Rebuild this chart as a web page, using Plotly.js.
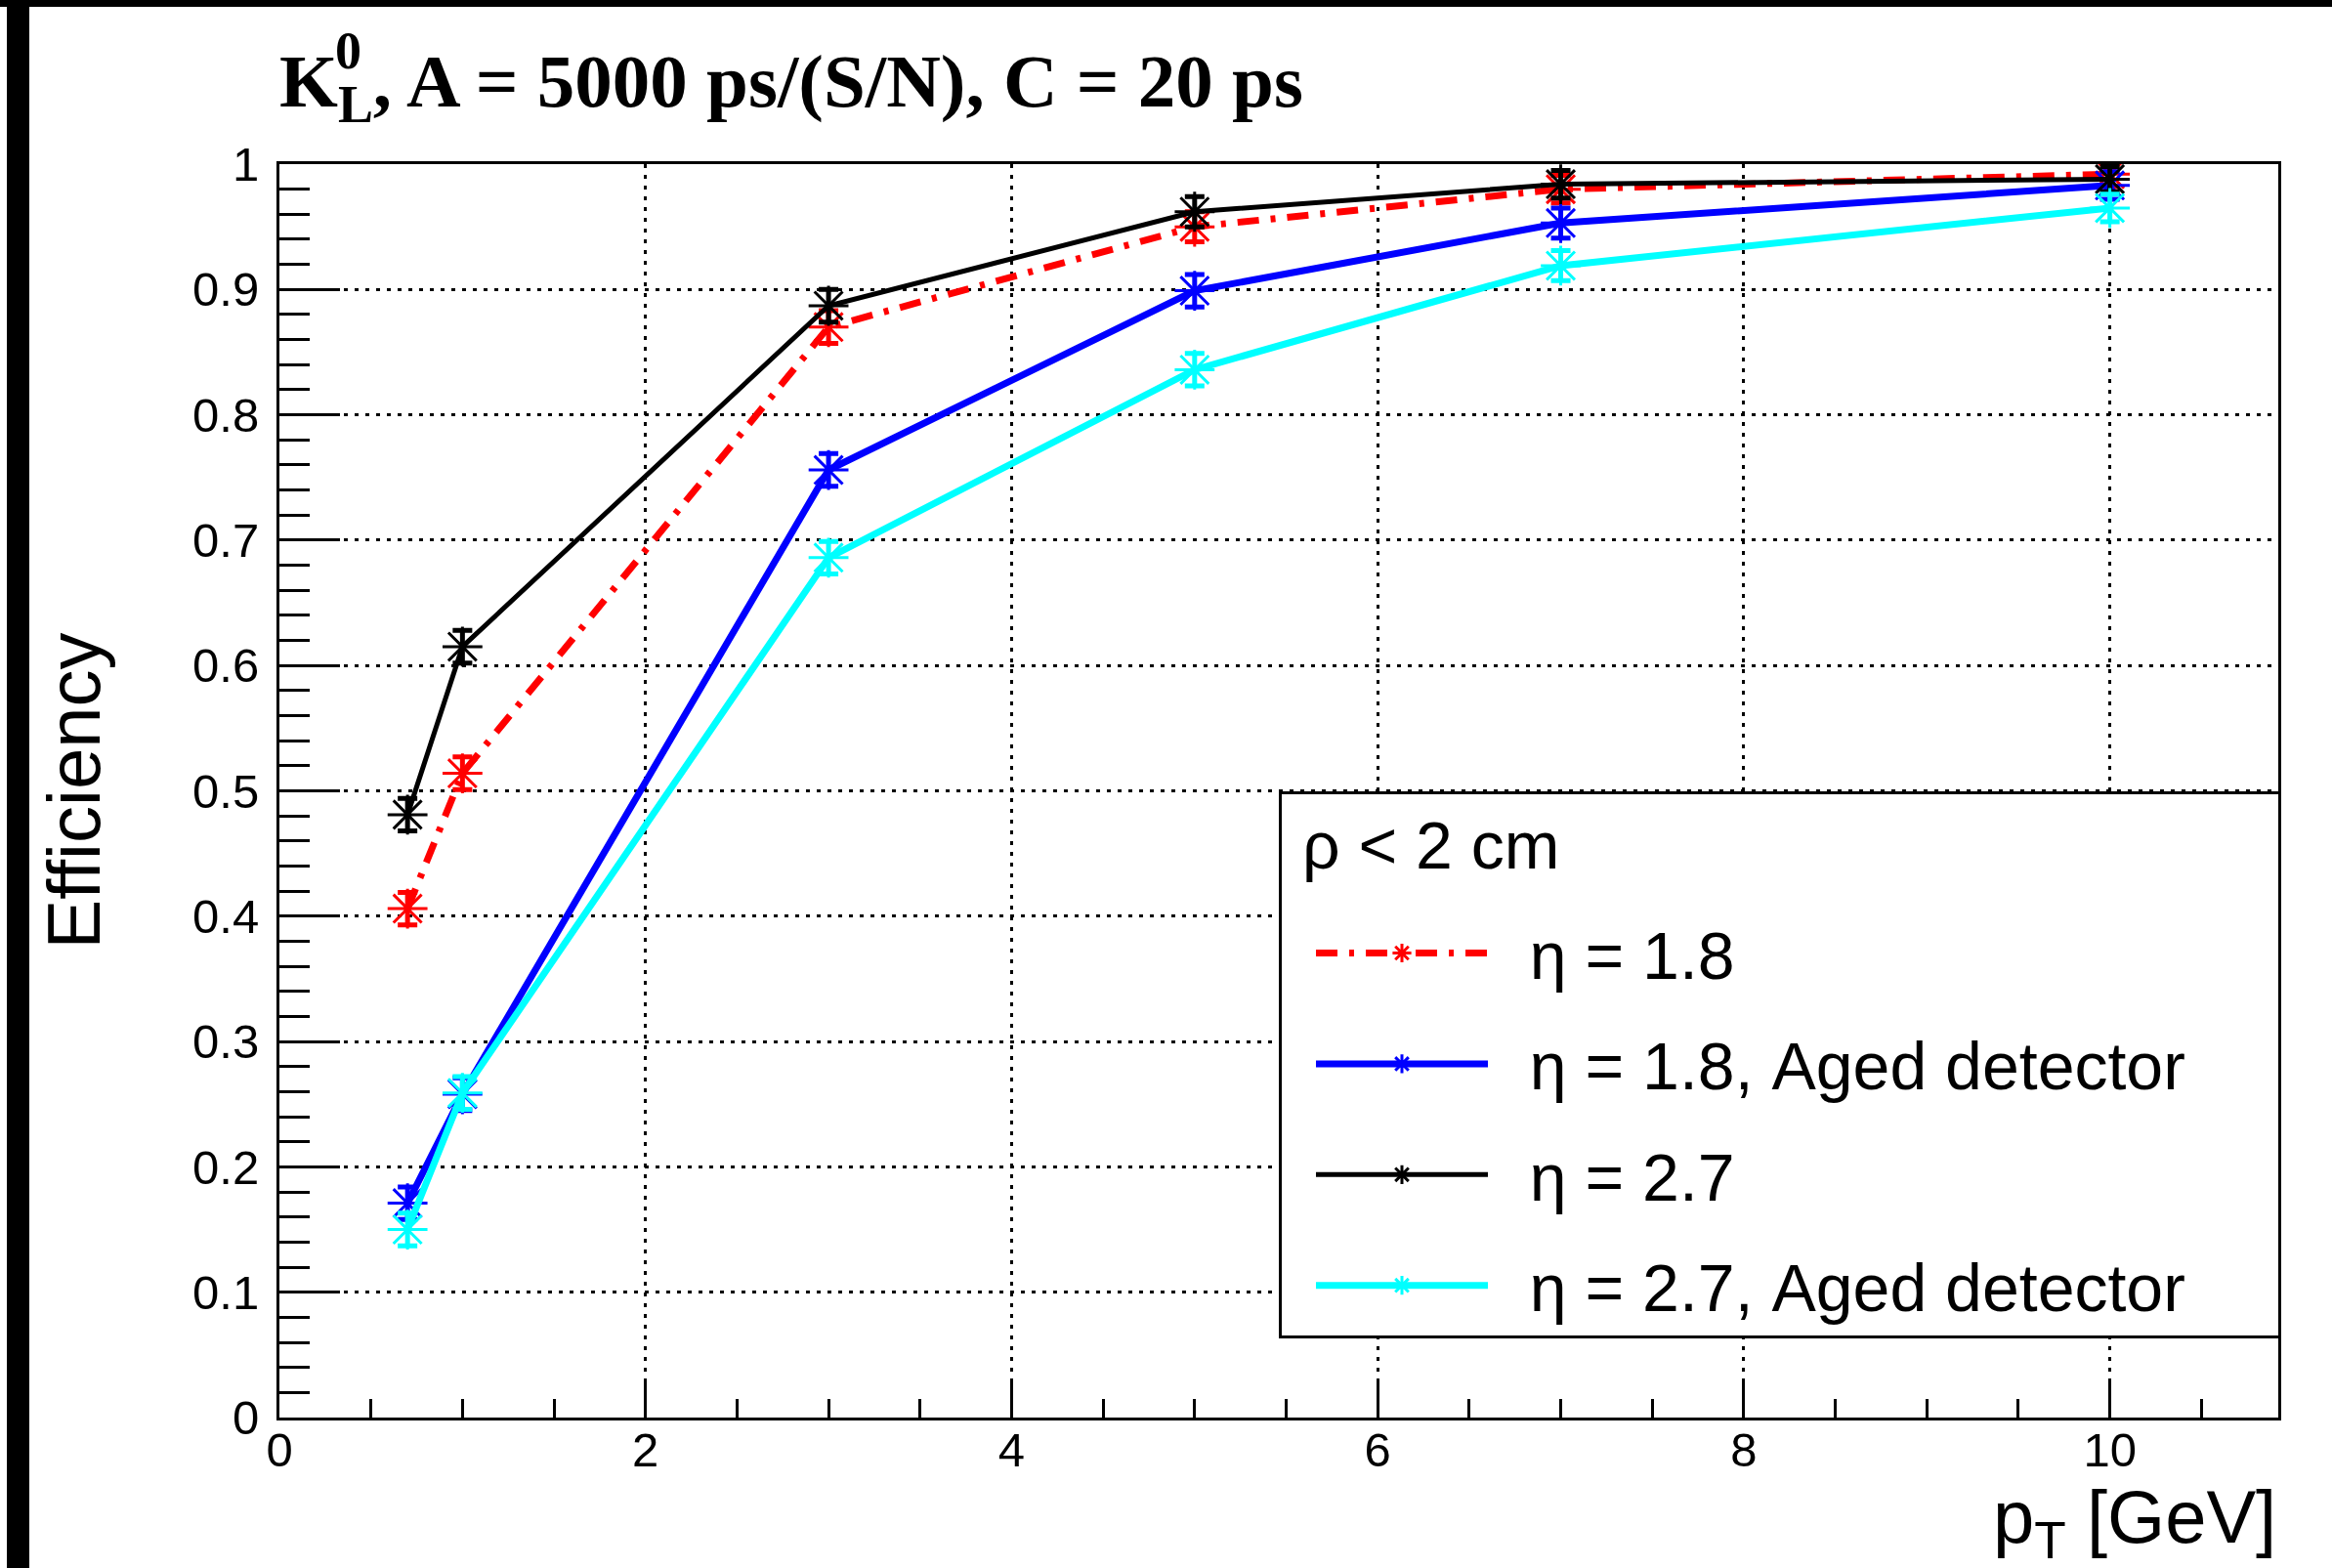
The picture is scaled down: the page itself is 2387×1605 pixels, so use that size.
<!DOCTYPE html>
<html>
<head>
<meta charset="utf-8">
<script src="https://cdn.plot.ly/plotly-3.0.1.min.js"></script>
<style>
  html, body { margin: 0; padding: 0; background: #fff; }
  #wrap { position: relative; width: 2387px; height: 1605px; overflow: hidden; background: #fff; }
  #chart { position: absolute; left: 0; top: 0; width: 2387px; height: 1605px; }
  #topbar { position: absolute; left: 0; top: 0; width: 2387px; height: 7px; background: #000; }
  #leftbar { position: absolute; left: 7px; top: 0; width: 23px; height: 1605px; background: #000; }
</style>
</head>
<body>
<div id="wrap">
  <div id="chart"></div>
  <div id="topbar"></div>
  <div id="leftbar"></div>
</div>
<script>
// ---- data ----
const pt = [0.7, 1, 3, 5, 7, 10];

const effEta18     = [0.406, 0.514, 0.870, 0.950, 0.980, 0.992];
const errEta18     = [0.013, 0.013, 0.013, 0.012, 0.011, 0.010];

const effEta18Aged = [0.171, 0.258, 0.756, 0.899, 0.953, 0.983];
const errEta18Aged = [0.013, 0.013, 0.013, 0.013, 0.012, 0.011];

const effEta27     = [0.481, 0.615, 0.887, 0.962, 0.984, 0.988];
const errEta27     = [0.013, 0.013, 0.013, 0.012, 0.011, 0.010];

const effEta27Aged = [0.150, 0.259, 0.686, 0.836, 0.919, 0.965];
const errEta27Aged = [0.013, 0.013, 0.013, 0.013, 0.012, 0.011];

const seriesNames = ["η = 1.8", "η = 1.8, Aged detector", "η = 2.7", "η = 2.7, Aged detector"];

const titleText = "K<sub>L</sub>, A = 5000 ps/(S/N), C = 20 ps";
const titleSup = "0";
const yTitle = "Efficiency";
const xTitle = "p<sub>T</sub> [GeV]";
const legendTitle = "ρ < 2 cm";

// ---- styling ----
const SANS = "Liberation Sans, Arial, Helvetica, sans-serif";
const SERIF = "Liberation Serif, Times New Roman, serif";
const NB = "\u00a0\u00a0";
const NBR = "\u00a0\u00a0\u00a0\u00a0\u2009";

function mkTrace(y, err, name, color, lw, dash, grp) {
  return {
    type: "scatter",
    mode: "lines+markers",
    x: pt, y: y, name: NB + name + NBR, legendgroup: grp,
    line: { color: color, width: lw, dash: dash },
    marker: { symbol: "asterisk-open", size: 34, color: color, line: { color: color, width: 3 } },
    error_y: { type: "data", array: err, visible: true, color: color, thickness: 5, width: 10 },
    cliponaxis: true
  };
}

const data = [
  mkTrace(effEta18,     errEta18,     seriesNames[0], "#ff0000", 7, "22px,12px,5px,12px", "a"),
  mkTrace(effEta18Aged, errEta18Aged, seriesNames[1], "#0000ff", 7, "solid", "b"),
  mkTrace(effEta27,     errEta27,     seriesNames[2], "#000000", 5, "solid", "c"),
  mkTrace(effEta27Aged, errEta27Aged, seriesNames[3], "#00ffff", 7, "solid", "d")
];

const axisCommon = {
  showline: true, linecolor: "#000", linewidth: 3, mirror: true,
  ticks: "inside", tickcolor: "#000", tickwidth: 3,
  showgrid: true, gridcolor: "#000", gridwidth: 3, griddash: "4px,7px",
  zeroline: false,
  tickfont: { family: SANS, size: 49, color: "#000" }
};

const layout = {
  width: 2387, height: 1605,
  paper_bgcolor: "#fff", plot_bgcolor: "#fff",
  margin: { l: 286, r: 55, t: 168, b: 154 },
  showlegend: true,
  font: { family: SANS, color: "#000" },
  title: {
    text: titleText,
    font: { family: SERIF, size: 77, weight: 700, color: "#000" },
    x: 0, xref: "paper", xanchor: "left",
    y: 1 - 82 / 1605, yref: "container", yanchor: "middle"
  },
  xaxis: Object.assign({}, axisCommon, {
    range: [0, 10.92], tick0: 0, dtick: 2, ticklen: 38,
    ticklabelstandoff: -12,
    minor: { dtick: 0.5, ticks: "inside", ticklen: 19, tickwidth: 3, tickcolor: "#000", showgrid: false }
  }),
  yaxis: Object.assign({}, axisCommon, {
    range: [0, 1], tick0: 0, dtick: 0.1, ticklen: 62,
    ticklabelstandoff: 8,
    title: { text: yTitle, font: { family: SANS, size: 76, color: "#000" }, standoff: 70 },
    minor: { dtick: 0.02, ticks: "inside", ticklen: 31, tickwidth: 3, tickcolor: "#000", showgrid: false }
  }),
  legend: {
    x: 0.5, xanchor: "left", y: 0.4996, yanchor: "top",
    bgcolor: "#fff", bordercolor: "#000", borderwidth: 3,
    font: { family: SANS, size: 68, color: "#000" },
    title: {
      text: '<sup><span style="font-size:68px">\u00a0' + legendTitle + '</span></sup>',
      font: { family: SANS, size: 86, color: "#000" }
    },
    itemwidth: 176, tracegroupgap: 22,
    traceorder: "grouped",
    indentation: 30
  },
  annotations: [
    {
      text: titleSup, showarrow: false,
      font: { family: SERIF, size: 54, weight: 700, color: "#000" },
      xref: "paper", yref: "paper", x: 0.027, xanchor: "left",
      y: (1451 - 52) / 1283, yanchor: "middle"
    },
    {
      text: xTitle, showarrow: false,
      font: { family: SANS, size: 76, color: "#000" },
      xref: "paper", yref: "paper", x: 1, xanchor: "right",
      y: 0, yanchor: "top", yshift: -57
    }
  ]
};

Plotly.newPlot("chart", data, layout, { displayModeBar: false, staticPlot: true });
</script>
</body>
</html>
